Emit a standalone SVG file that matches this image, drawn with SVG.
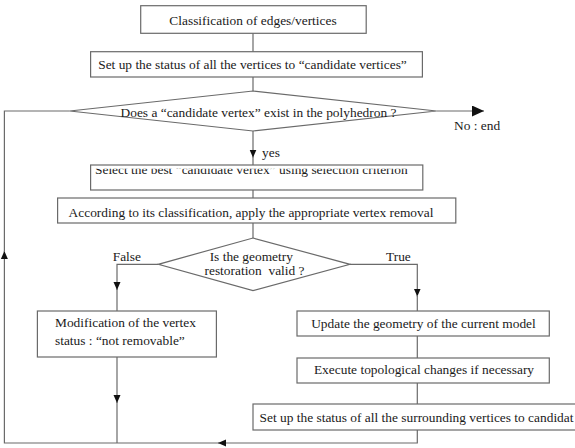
<svg xmlns="http://www.w3.org/2000/svg" width="575" height="448" viewBox="0 0 575 448">
<style>
.box{fill:#fff;stroke:#6a6a6a;stroke-width:1.2}
.ln{fill:none;stroke:#6a6a6a;stroke-width:1.2}
text{font-family:"Liberation Serif","Times New Roman",serif;font-size:13.4px;fill:#1a1a1a}
.m{text-anchor:middle}
</style>
<defs>
<marker id="ah" markerUnits="userSpaceOnUse" markerWidth="9" markerHeight="8" refX="8" refY="4" orient="auto">
<path d="M0,0.5 L8,4 L0,7.5 z" fill="#111"/>
</marker>
<marker id="ahBig" markerUnits="userSpaceOnUse" markerWidth="13" markerHeight="11" refX="12" refY="5.5" orient="auto">
<path d="M0,0 L12,5.5 L0,11 z" fill="#111"/>
</marker>
<clipPath id="clip3"><rect x="90" y="168.8" width="333" height="21"/></clipPath>
</defs>
<rect width="575" height="448" fill="#fff"/>
<g id="connectors">
<line class="ln" x1="253" y1="33" x2="253" y2="52"/>
<line class="ln" x1="253" y1="77" x2="253" y2="91"/>
<line class="ln" x1="436.5" y1="111" x2="484" y2="111" marker-end="url(#ahBig)"/>
<line class="ln" x1="253" y1="131" x2="253" y2="157.5" marker-end="url(#ah)"/>
<line class="ln" x1="253" y1="157" x2="253" y2="165"/>
<line class="ln" x1="253" y1="190" x2="253" y2="198"/>
<line class="ln" x1="253" y1="223" x2="253" y2="238"/>
<polyline class="ln" points="158.3,264.3 117,264.3 117,290" marker-end="url(#ah)"/>
<line class="ln" x1="117" y1="289" x2="117" y2="311"/>
<polyline class="ln" points="350,264.3 417.3,264.3 417.3,296.5" marker-end="url(#ah)"/>
<line class="ln" x1="417.3" y1="295" x2="417.3" y2="311"/>
<line class="ln" x1="117" y1="357" x2="117" y2="403" marker-end="url(#ah)"/>
<line class="ln" x1="117" y1="402" x2="117" y2="443"/>
<line class="ln" x1="417.3" y1="336" x2="417.3" y2="358"/>
<line class="ln" x1="417.3" y1="383" x2="417.3" y2="404"/>
<polyline class="ln" points="417.3,430 417.3,443 218,443" marker-end="url(#ah)"/>
<polyline class="ln" points="219,443 4.4,443 4.4,251" marker-end="url(#ah)"/>
<polyline class="ln" points="4.4,252 4.4,111 69.7,111"/>
</g>
<g id="n1">
<rect class="box" x="140.7" y="5.7" width="225.5" height="27.6"/>
<text class="m" x="253" y="25">Classification of edges/vertices</text>
</g>
<g id="n2">
<rect class="box" x="90.6" y="51.7" width="331.8" height="25.3"/>
<text class="m" x="252.5" y="69">Set up the status of all the vertices to “candidate vertices”</text>
</g>
<g id="d1">
<polygon class="box" points="253,91 436.5,111 253,131 69.7,111"/>
<text class="m" x="258.5" y="117">Does a “candidate vertex” exist in the polyhedron ?</text>
<text x="454" y="130">No : end</text>
<text x="262" y="156.7">yes</text>
</g>
<g id="n3">
<rect class="box" x="90.6" y="165" width="332.2" height="25"/>
<text x="95" y="173.5" clip-path="url(#clip3)">Select the best “candidate vertex” using selection criterion</text>
</g>
<g id="n4">
<rect class="box" x="57.6" y="198" width="398.2" height="25"/>
<text class="m" x="251" y="217">According to its classification, apply the appropriate vertex removal</text>
</g>
<g id="d2">
<polygon class="box" points="253,238 350,264.3 253,290.7 158.3,264.3"/>
<text class="m" x="251.3" y="261">Is the geometry</text>
<text class="m" x="254.5" y="275" style="white-space:pre">restoration  valid ?</text>
<text x="112.7" y="261">False</text>
<text x="386" y="261">True</text>
</g>
<g id="n5">
<rect class="box" x="37.4" y="311" width="179" height="46"/>
<text x="55" y="327">Modification of the vertex</text>
<text x="55" y="345">status : “not removable”</text>
</g>
<g id="n6">
<rect class="box" x="297" y="311" width="252.3" height="25"/>
<text class="m" x="423.5" y="327.5">Update the geometry of the current model</text>
</g>
<g id="n7">
<rect class="box" x="297" y="358" width="252.3" height="25"/>
<text class="m" x="424" y="374">Execute topological changes if necessary</text>
</g>
<g id="n8">
<rect class="box" x="253" y="404" width="324" height="26"/>
<text x="259.6" y="421.5">Set up the status of all the surrounding vertices to candidat</text>
</g>
</svg>
